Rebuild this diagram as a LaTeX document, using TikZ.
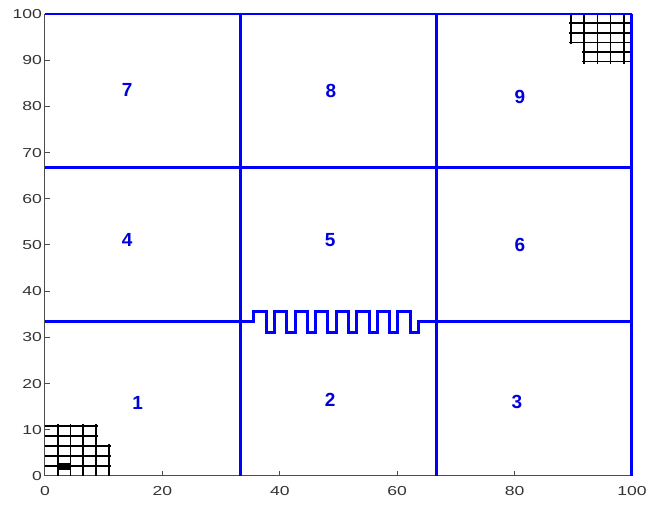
\documentclass[tikz,border=0pt]{standalone}
\usepackage{graphicx}
\usepackage{fontspec}
\setmainfont{Liberation Sans}
\newcommand{\widetick}[1]{\scalebox{1.35}[1]{#1}}
\begin{document}
\begin{tikzpicture}[x=5.87pt,y=4.62pt,
  wall/.style={blue, line width=3pt},
  topwall/.style={blue, line width=2pt},
  gridln/.style={black, line width=1.7pt},
  axisln/.style={black!70, line width=1pt},
  ticklbl/.style={font=\fontsize{13}{13}\selectfont, text=black!80, inner sep=0pt},
  roomlbl/.style={font=\fontsize{19}{19}\selectfont\bfseries, text=blue!85!black, inner sep=0pt}]
\useasboundingbox (-7.666,-6.277) rectangle (103.07,103.03);
% axes
\draw[axisln] (0,100) -- (0,0) -- (100,0);
\foreach \y in {0,10,...,100} {
  \draw[axisln] (0,\y) -- ++(0.85,0);
  \node[ticklbl, anchor=east] (yt\y) at ([xshift=-3pt]0,\y) {\widetick{\y}};
}
\foreach \x in {0,20,...,100} {
  \draw[axisln] (\x,0) -- ++(0,1.08);
  \node[ticklbl, anchor=north] (xt\x) at ([yshift=-10pt]\x,0) {\widetick{\x}};
}
% bottom-left grid
\def\gx{2.17}
\def\gy{2.15}
\foreach \k in {1,2,3} \draw[gridln] (0,\k*\gy) -- (5*\gx+0.4,\k*\gy);
\foreach \k in {4,5} \draw[gridln] (0,\k*\gy) -- (4*\gx+0.4,\k*\gy);
\foreach \k in {1,2,3,4} \draw[gridln] (\k*\gx,0) -- (\k*\gx,5*\gy+0.5);
\draw[gridln] (5*\gx,0) -- (5*\gx,3*\gy+0.5);
\fill[black] (\gx,\gy-0.8) rectangle (2*\gx,\gy+0.6);
% top-right grid
\foreach \yy in {98.0,95.93,93.86} \draw[gridln] (89.25,\yy) -- (100,\yy);
\foreach \yy in {91.79,89.72} \draw[gridln] (91.5,\yy) -- (100,\yy);
\draw[gridln] (89.6,93.4) -- (89.6,100);
\foreach \xx in {91.85,94.1,96.35,98.6} \draw[gridln] (\xx,89.25) -- (\xx,100);
% walls
\draw[topwall] (0,100) -- (100,100);
\draw[wall] (100,0) -- (100,100);
\draw[wall] (33.333,0) -- (33.333,100);
\draw[wall] (66.667,0) -- (66.667,100);
\draw[wall] (0,66.667) -- (100,66.667);
\draw[wall] (0,33.333) -- (33.333,33.333);
\draw[wall] (66.667,33.333) -- (100,33.333);
\draw[wall, line join=miter] (33.333,33.333) -- (35.6,33.333) -- (35.6,35.5)
  -- (37.7,35.5) -- (37.7,31.15) -- (39.1,31.15) -- (39.1,35.5)
  -- (41.2,35.5) -- (41.2,31.15) -- (42.6,31.15) -- (42.6,35.5)
  -- (44.7,35.5) -- (44.7,31.15) -- (46.1,31.15) -- (46.1,35.5)
  -- (48.2,35.5) -- (48.2,31.15) -- (49.6,31.15) -- (49.6,35.5)
  -- (51.7,35.5) -- (51.7,31.15) -- (53.1,31.15) -- (53.1,35.5)
  -- (55.2,35.5) -- (55.2,31.15) -- (56.6,31.15) -- (56.6,35.5)
  -- (58.7,35.5) -- (58.7,31.15) -- (60.1,31.15) -- (60.1,35.5)
  -- (62.2,35.5) -- (62.2,31.15) -- (63.6,31.15) -- (63.6,33.333)
  -- (66.667,33.333);
% room labels
\node[roomlbl] (l7) at (14.0,83.5) {7};
\node[roomlbl] (l8) at (48.7,83.3) {8};
\node[roomlbl] (l9) at (80.9,82.0) {9};
\node[roomlbl] (l4) at (14.0,51.1) {4};
\node[roomlbl] (l5) at (48.6,51.1) {5};
\node[roomlbl] (l6) at (80.9,50.0) {6};
\node[roomlbl] (l1) at (15.8,15.8) {1};
\node[roomlbl] (l2) at (48.6,16.5) {2};
\node[roomlbl] (l3) at (80.4,16.0) {3};
\end{tikzpicture}
\end{document}
